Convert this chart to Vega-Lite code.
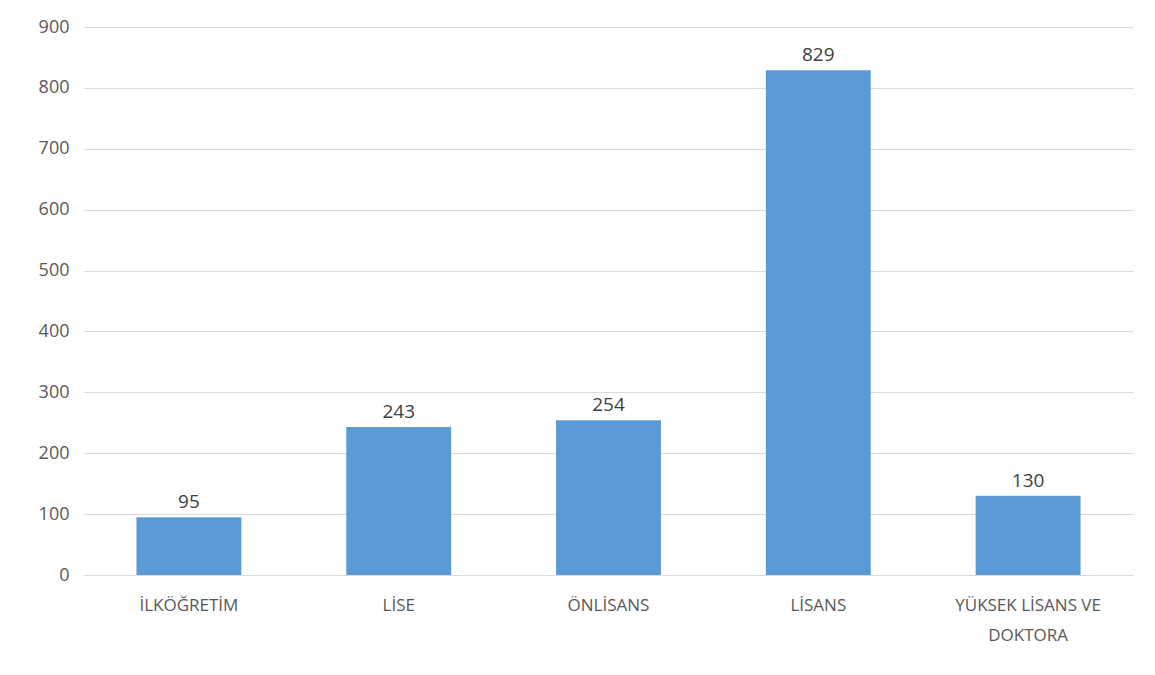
{
  "$schema": "https://vega.github.io/schema/vega-lite/v6.json",
  "autosize": "none",
  "padding": {"left": 84, "top": 27, "right": 22, "bottom": 100},
  "width": 1049,
  "height": 548,
  "background": "white",
  "config": {
    "view": {"stroke": null},
    "font": "Open Sans"
  },
  "data": {
    "values": [
      {"kategori": "İLKÖĞRETİM", "deger": 95},
      {"kategori": "LİSE", "deger": 243},
      {"kategori": "ÖNLİSANS", "deger": 254},
      {"kategori": "LİSANS", "deger": 829},
      {"kategori": "YÜKSEK LİSANS VE DOKTORA", "deger": 130}
    ]
  },
  "encoding": {
    "x": {
      "field": "kategori",
      "type": "nominal",
      "sort": null,
      "scale": {"paddingInner": 0.5, "paddingOuter": 0.25},
      "axis": {
        "title": null,
        "labelAngle": 0,
        "labelExpr": "datum.value == 'YÜKSEK LİSANS VE DOKTORA' ? ['YÜKSEK LİSANS VE', 'DOKTORA'] : datum.value",
        "labelFontSize": 17,
        "labelColor": "#595959",
        "labelPadding": 22,
        "labelLineHeight": 30,
        "labelLimit": 250,
        "ticks": false,
        "domainColor": "#d9d9d9",
        "domainWidth": 1
      }
    },
    "y": {
      "field": "deger",
      "type": "quantitative",
      "scale": {"domain": [0, 900]},
      "axis": {
        "title": null,
        "values": [0, 100, 200, 300, 400, 500, 600, 700, 800, 900],
        "labelFontSize": 18,
        "labelColor": "#595959",
        "labelPadding": 15,
        "ticks": false,
        "domain": false,
        "gridColor": "#d9d9d9",
        "gridWidth": 1
      }
    }
  },
  "layer": [
    {"mark": {"type": "bar", "color": "#5b9bd5"}},
    {
      "mark": {"type": "text", "dy": -15, "fontSize": 19, "color": "#404040"},
      "encoding": {"text": {"field": "deger", "type": "quantitative"}}
    }
  ]
}
